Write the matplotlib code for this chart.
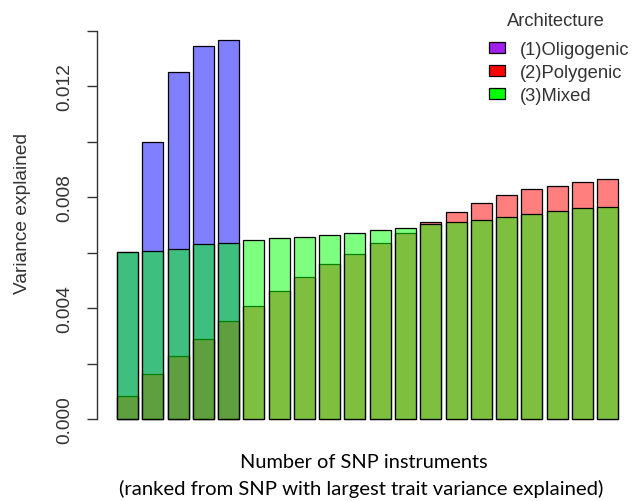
import numpy as np
import matplotlib
matplotlib.use('Agg')
import matplotlib.pyplot as plt
from matplotlib.patches import Patch


# variance explained per SNP instrument
oligogenic = [0.00601, 0.00998, 0.01250, 0.01347, 0.01367]
polygenic = [0.00084, 0.00163, 0.00227, 0.00289, 0.00353, 0.00408, 0.00463,
             0.00513, 0.00559, 0.00596, 0.00635, 0.00672, 0.00712, 0.00745,
             0.00779, 0.00808, 0.00830, 0.00842, 0.00854, 0.00866]
mixed = [0.00601, 0.00605, 0.00613, 0.00630, 0.00635, 0.00647, 0.00652,
         0.00656, 0.00664, 0.00672, 0.00682, 0.00689, 0.00702, 0.00711,
         0.00717, 0.00727, 0.00739, 0.00749, 0.00761, 0.00766]

legend_labels = ['(1)Oligogenic', '(2)Polygenic', '(3)Mixed']
legend_colors = ['#A020F0', '#FF0000', '#00FF00']

ytick_values = np.arange(0, 0.0141, 0.002)
ytick_labels = ['0.000', '', '0.004', '', '0.008', '', '0.012', '']

W, H = 633, 502
fig = plt.figure(figsize=(W / 100, H / 100), dpi=100)
plt.rcParams['font.family'] = ['Liberation Sans', 'DejaVu Sans']

# axes placed in pixels so that bar geometry follows R's barplot layout
px_per_unit = 27725.0
ax_bottom_px, ax_top_px = 435, 25
ax_left_px, ax_right_px = 96.8, 642.6
ax = fig.add_axes([ax_left_px / W, (H - ax_bottom_px) / H,
                   (ax_right_px - ax_left_px) / W,
                   (ax_bottom_px - ax_top_px) / H])

# R barplot: width 1, space 0.2
def centers(n):
    return 0.7 + 1.2 * np.arange(n)

ax.bar(centers(len(oligogenic)), oligogenic, width=1.0,
       color=(0, 0, 1, 0.5), edgecolor='black', linewidth=0.9)
ax.bar(centers(len(polygenic)), polygenic, width=1.0,
       color=(1, 0, 0, 0.5), edgecolor='black', linewidth=0.9)
ax.bar(centers(len(mixed)), mixed, width=1.0,
       color=(0, 1, 0, 0.5), edgecolor='black', linewidth=0.9)

ax.set_xlim(-0.76, 25.16)
ax.set_ylim((420 - ax_bottom_px) / px_per_unit, (420 - ax_top_px) / px_per_unit)

for s in ['top', 'right', 'bottom']:
    ax.spines[s].set_visible(False)
ax.spines['left'].set_bounds(0, 0.014)
ax.spines['left'].set_linewidth(1.0)
ax.spines['left'].set_color('#333333')
ax.set_xticks([])
ax.set_yticks(ytick_values)
ax.set_yticklabels(ytick_labels, rotation=90, va='center', fontsize=13.8,
                   color='#333333')
ax.tick_params(axis='y', length=7.2, width=1.0, color='#333333', pad=10)
ax.patch.set_alpha(0)

fig.text(23 / W, 1 - 214 / H, 'Variance explained', rotation=90,
         ha='center', va='center', fontsize=13.8, color='#333333')

# legend: title drawn separately so the gap above the keys matches
fig.text(556 / W, 1 - 21 / H, 'Architecture', ha='center', va='center',
         fontsize=13.2, color='#333333')
handles = [Patch(facecolor=c, edgecolor='black', linewidth=0.9) for c in legend_colors]
leg = fig.legend(handles, legend_labels, frameon=False,
                 loc='upper left', bbox_to_anchor=(489 / W, 1 - 42 / H),
                 borderaxespad=0, borderpad=0,
                 fontsize=13.2, handlelength=0.85, labelcolor='#333333',
                 handleheight=0.55, handletextpad=0.85, labelspacing=0.32)

fig.text(364 / W, 1 - 463 / H, 'Number of SNP instruments', ha='center',
         va='center', fontsize=14.4, family=['Lato', 'DejaVu Sans'])
fig.text(361 / W, 1 - 489 / H,
         '(ranked from SNP with largest trait variance explained)',
         ha='center', va='center', fontsize=14.6, family=['Lato', 'DejaVu Sans'])

fig.savefig('out.png', dpi=100)
